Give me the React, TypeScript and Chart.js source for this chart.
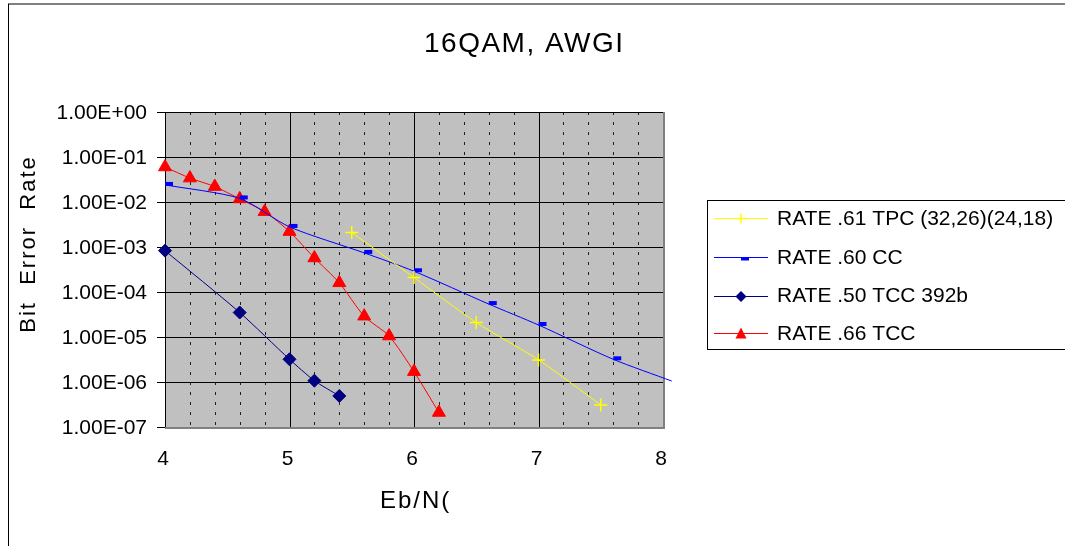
import React, { useEffect, useRef } from "react";
import { Chart, registerables } from "chart.js";

Chart.register(...registerables);

// ---- texts ----
const chartTitle = "16QAM, AWGI";
const xAxisTitle = "Eb/N(";
const yAxisTitle = "Bit  Error  Rate";

// ---- axes ----
const xMin = 4;
const xMax = 8;
const xTickValues = [4, 5, 6, 7, 8];
const xTickLabels = ["4", "5", "6", "7", "8"];
const xMinorValues = [4.2, 4.4, 4.6, 4.8, 5.2, 5.4, 5.6, 5.8, 6.2, 6.4, 6.6, 6.8, 7.2, 7.4, 7.6, 7.8];
const yMin = 1e-7;
const yMax = 1;
const yTickValues = [1, 1e-1, 1e-2, 1e-3, 1e-4, 1e-5, 1e-6, 1e-7];
const yTickLabels = ["1.00E+00", "1.00E-01", "1.00E-02", "1.00E-03", "1.00E-04", "1.00E-05", "1.00E-06", "1.00E-07"];

// ---- series ----
const seriesNames = ["RATE .61 TPC (32,26)(24,18)", "RATE .60 CC", "RATE .50 TCC 392b", "RATE .66 TCC"];
const seriesColors = ["#FFFF00", "#0000FF", "#000080", "#FF0000"];

const tpcX = [5.5, 6.0, 6.5, 7.0, 7.5];
const tpcBER = [2.1e-3, 2.1e-4, 2.1e-5, 3.1e-6, 3.1e-7];

const ccX = [4.0, 4.6, 5.0, 5.6, 6.0, 6.6, 7.0, 7.6, 8.07];
const ccBER = [2.4e-2, 1.2e-2, 2.8e-3, 7.4e-4, 2.9e-4, 5.4e-5, 1.85e-5, 3.2e-6, 1.05e-6];

const tcc392X = [4.0, 4.6, 5.0, 5.2, 5.4];
const tcc392BER = [8.3e-4, 3.5e-5, 3.2e-6, 1.07e-6, 4.9e-7];

const tcc66X = [4.0, 4.2, 4.4, 4.6, 4.8, 5.0, 5.2, 5.4, 5.6, 5.8, 6.0, 6.2];
const tcc66BER = [6.0e-2, 3.4e-2, 2.2e-2, 1.17e-2, 6.1e-3, 2.2e-3, 5.7e-4, 1.6e-4, 2.9e-5, 1.05e-5, 1.7e-6, 2.1e-7];

const FONT = "'Liberation Sans', Arial, sans-serif";

function pts(xs: number[], ys: number[]) {
  return xs.map((x, i) => ({ x, y: ys[i] }));
}

function makeDashMarker(color: string): HTMLCanvasElement {
  const c = document.createElement("canvas");
  c.width = 18;
  c.height = 10;
  const g = c.getContext("2d")!;
  g.fillStyle = color;
  g.fillRect(9, 2, 8, 4);
  return c;
}

const gridPlugin = {
  id: "excelGrid",
  beforeDatasetsDraw(chart: any) {
    const { ctx, chartArea: a, scales } = chart;
    const x = scales.x;
    const y = scales.y;
    ctx.save();
    ctx.fillStyle = "#C0C0C0";
    ctx.fillRect(a.left, a.top, a.right - a.left, a.bottom - a.top);

    // minor dashed verticals
    ctx.strokeStyle = "#202020";
    ctx.lineWidth = 1;
    ctx.setLineDash([3, 7]);
    ctx.beginPath();
    for (const v of xMinorValues) {
      const px = Math.round(x.getPixelForValue(v)) + 0.5;
      ctx.moveTo(px, a.top);
      ctx.lineTo(px, a.bottom);
    }
    ctx.stroke();
    ctx.setLineDash([]);

    // major horizontals with tick marks
    ctx.strokeStyle = "#000";
    ctx.beginPath();
    for (const v of yTickValues) {
      const py = Math.round(y.getPixelForValue(v)) + 0.5;
      ctx.moveTo(a.left - 8, py);
      ctx.lineTo(a.right, py);
    }
    // major verticals
    for (const v of xTickValues) {
      if (v === xMax) continue;
      const px = Math.round(x.getPixelForValue(v)) + 0.5;
      ctx.moveTo(px, a.top);
      ctx.lineTo(px, a.bottom);
    }
    ctx.stroke();

    // right & bottom border
    ctx.strokeStyle = "#808080";
    ctx.lineWidth = 2;
    ctx.beginPath();
    const r = Math.round(a.right) + 1;
    const b = Math.round(a.bottom) + 1;
    ctx.moveTo(r, a.top);
    ctx.lineTo(r, b);
    ctx.lineTo(a.left, b);
    ctx.stroke();
    ctx.restore();
  },
  afterDraw(chart: any) {
    const { ctx, chartArea: a, scales } = chart;
    const x = scales.x;
    const y = scales.y;
    ctx.save();
    ctx.fillStyle = "#000";

    // y tick labels
    ctx.font = `21px ${FONT}`;
    ctx.textAlign = "right";
    ctx.textBaseline = "middle";
    yTickValues.forEach((v, i) => {
      ctx.fillText(yTickLabels[i], a.left - 18, y.getPixelForValue(v) + 1);
    });
    // x tick labels
    ctx.textAlign = "center";
    xTickValues.forEach((v, i) => {
      ctx.fillText(xTickLabels[i], x.getPixelForValue(v) - 2, a.bottom + 32);
    });

    // title
    ctx.textAlign = "left";
    ctx.textBaseline = "alphabetic";
    ctx.font = `28px ${FONT}`;
    (ctx as any).letterSpacing = "1.5px";
    ctx.fillText(chartTitle, 424, 52);

    // x axis title
    ctx.font = `24px ${FONT}`;
    (ctx as any).letterSpacing = "2px";
    ctx.fillText(xAxisTitle, 380, 508);

    // y axis title
    ctx.save();
    ctx.translate(35, 244);
    ctx.rotate(-Math.PI / 2);
    ctx.textAlign = "center";
    ctx.font = `22px ${FONT}`;
    (ctx as any).letterSpacing = "2px";
    ctx.fillText(yAxisTitle, 0, 0);
    ctx.restore();
    (ctx as any).letterSpacing = "0px";

    // legend
    ctx.strokeStyle = "#000";
    ctx.lineWidth = 1;
    ctx.strokeRect(707.5, 200.5, 420, 149);
    const rows = [218, 257, 295.5, 333];
    rows.forEach((ry, i) => {
      const col = seriesColors[i];
      ctx.strokeStyle = col;
      ctx.lineWidth = 1;
      ctx.beginPath();
      ctx.moveTo(714, Math.round(ry) + 0.5);
      ctx.lineTo(768, Math.round(ry) + 0.5);
      ctx.stroke();
      const cx = 741;
      const cy = Math.round(ry) + 0.5;
      ctx.fillStyle = col;
      if (i === 0) {
        ctx.lineWidth = 1.5;
        ctx.beginPath();
        ctx.moveTo(cx - 5, cy);
        ctx.lineTo(cx + 5, cy);
        ctx.moveTo(cx, cy - 5);
        ctx.lineTo(cx, cy + 5);
        ctx.stroke();
      } else if (i === 1) {
        ctx.fillRect(cx, cy, 8, 3);
      } else if (i === 2) {
        ctx.beginPath();
        ctx.moveTo(cx, cy - 5.5);
        ctx.lineTo(cx + 5.5, cy);
        ctx.lineTo(cx, cy + 5.5);
        ctx.lineTo(cx - 5.5, cy);
        ctx.closePath();
        ctx.fill();
      } else {
        ctx.beginPath();
        ctx.moveTo(cx, cy - 6);
        ctx.lineTo(cx + 5.5, cy + 5);
        ctx.lineTo(cx - 5.5, cy + 5);
        ctx.closePath();
        ctx.fill();
      }
      ctx.fillStyle = "#000";
      ctx.font = `21px ${FONT}`;
      ctx.textAlign = "left";
      ctx.textBaseline = "middle";
      ctx.fillText(seriesNames[i], 777, ry + 1);
    });

    // outer chart border
    ctx.strokeStyle = "#808080";
    ctx.lineWidth = 2;
    ctx.beginPath();
    ctx.moveTo(8, 4);
    ctx.lineTo(1065, 4);
    ctx.stroke();
    ctx.strokeStyle = "#000";
    ctx.lineWidth = 1;
    ctx.beginPath();
    ctx.moveTo(8.5, 4);
    ctx.lineTo(8.5, 546);
    ctx.stroke();
    ctx.restore();
  },
};

export default function App() {
  const canvasRef = useRef<HTMLCanvasElement | null>(null);

  useEffect(() => {
    const canvas = canvasRef.current;
    if (!canvas) return;
    const dash = makeDashMarker(seriesColors[1]);
    const common = {
      borderWidth: 1,
      tension: 0.25,
      clip: false as any,
      fill: false,
    };
    const chart = new Chart(canvas, {
      type: "line",
      data: {
        datasets: [
          {
            ...common,
            label: seriesNames[0],
            data: pts(tpcX, tpcBER),
            borderColor: seriesColors[0],
            pointStyle: "cross",
            pointRadius: 6.5,
            pointBorderWidth: 1.5,
            pointBorderColor: seriesColors[0],
            pointBackgroundColor: seriesColors[0],
          },
          {
            ...common,
            label: seriesNames[1],
            data: pts(ccX, ccBER),
            borderColor: seriesColors[1],
            pointStyle: dash as any,
            pointRadius: 4,
          },
          {
            ...common,
            label: seriesNames[2],
            data: pts(tcc392X, tcc392BER),
            borderColor: seriesColors[2],
            pointStyle: "rectRot",
            pointRadius: 6.5,
            pointBorderWidth: 1,
            pointBorderColor: seriesColors[2],
            pointBackgroundColor: seriesColors[2],
          },
          {
            ...common,
            label: seriesNames[3],
            data: pts(tcc66X, tcc66BER),
            borderColor: seriesColors[3],
            pointStyle: "triangle",
            pointRadius: 7.5,
            pointBorderWidth: 1,
            pointBorderColor: seriesColors[3],
            pointBackgroundColor: seriesColors[3],
          },
        ],
      },
      options: {
        responsive: false,
        maintainAspectRatio: false,
        devicePixelRatio: 1,
        animation: false,
        events: [],
        layout: { padding: { left: 0, top: 112, right: 402, bottom: 0 } },
        elements: { line: { capBezierPoints: false } },
        plugins: {
          legend: { display: false },
          tooltip: { enabled: false },
          title: { display: false },
        },
        scales: {
          x: {
            type: "linear",
            min: xMin,
            max: xMax,
            grid: { display: false },
            border: { display: false },
            ticks: { display: false },
            afterFit: (s: any) => {
              s.height = 119;
            },
          },
          y: {
            type: "logarithmic",
            min: yMin,
            max: yMax,
            grid: { display: false },
            border: { display: false },
            ticks: { display: false },
            afterFit: (s: any) => {
              s.width = 165;
            },
          },
        },
      },
      plugins: [gridPlugin],
    });
    return () => chart.destroy();
  }, []);

  return (
    <div style={{ position: "fixed", left: 0, top: 0, width: 1065, height: 546, background: "#fff" }}>
      <canvas ref={canvasRef} width={1065} height={546} style={{ display: "block" }} />
    </div>
  );
}
